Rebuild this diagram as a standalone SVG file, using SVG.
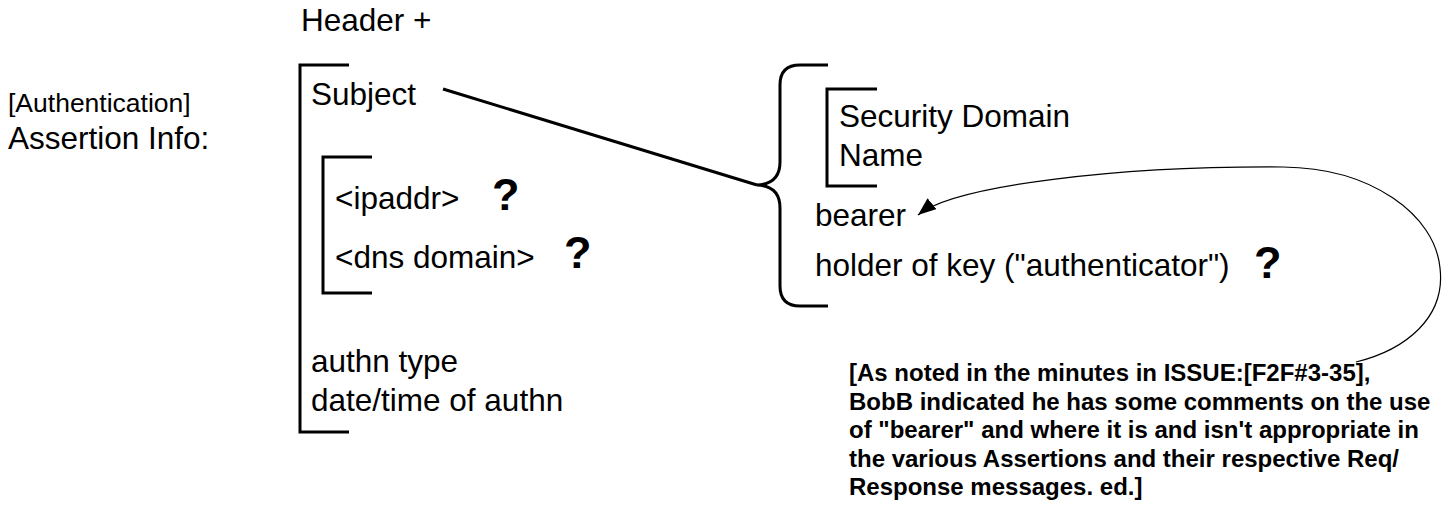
<svg xmlns="http://www.w3.org/2000/svg" width="1448" height="505" viewBox="0 0 1448 505">
<defs>
<style>
.t{font-family:"Liberation Sans",Arial,sans-serif;font-size:31.5px;fill:#000}
.s{font-family:"Liberation Sans",Arial,sans-serif;font-size:26.5px;fill:#000}
.q{font-family:"Liberation Sans",Arial,sans-serif;font-size:45px;font-weight:bold;fill:#000}
.b{font-family:"Liberation Sans",Arial,sans-serif;font-size:24px;font-weight:bold;fill:#000}
.br{fill:none;stroke:#000;stroke-width:3}
.ln{fill:none;stroke:#000;stroke-width:3}
.cv{fill:none;stroke:#000;stroke-width:1.2}
</style>
<marker id="ah" markerWidth="20" markerHeight="14" refX="18" refY="7" orient="auto" markerUnits="userSpaceOnUse">
<path d="M0,0 L18,7 L0,14 z" fill="#000"/>
</marker>
</defs>
<rect width="1448" height="505" fill="#fff"/>
<g id="header"><text class="t" x="301" y="31">Header +</text></g>
<g id="assertion-label">
<text class="s" x="8" y="112">[Authentication]</text>
<text class="t" x="8" y="149">Assertion Info:</text>
</g>
<g id="outer-bracket">
<path class="br" d="M349,65 H300 V432 H349"/>
<text class="t" x="311" y="105">Subject</text>
<text class="t" x="311" y="372">authn type</text>
<text class="t" x="311" y="411">date/time of authn</text>
</g>
<g id="inner-bracket">
<path class="br" d="M372,157 H323 V293 H372"/>
<text class="t" x="335" y="209">&lt;ipaddr&gt;</text>
<text class="q" x="492" y="210">?</text>
<text class="t" x="335" y="268">&lt;dns domain&gt;</text>
<text class="q" x="564" y="268">?</text>
</g>
<g id="subject-brace">
<path class="br" d="M828,65 H800 Q780,65 780,85 V162 Q780,184 757,185 Q780,186 780,208 V286 Q780,306 800,306 H828"/>
<path class="br" d="M877,89 H827 V186 H877"/>
<text class="t" x="839" y="127">Security Domain</text>
<text class="t" x="839" y="166">Name</text>
<text class="t" x="815" y="226">bearer</text>
<text class="t" x="815" y="276">holder of key ("authenticator")</text>
<text class="q" x="1254" y="278">?</text>
</g>
<g id="note">
<text class="b" x="849" y="381">[As noted in the minutes in ISSUE:[F2F#3-35],</text>
<text class="b" x="849" y="409.5">BobB indicated he has some comments on the use</text>
<text class="b" x="849" y="438">of "bearer" and where it is and isn't appropriate in</text>
<text class="b" x="849" y="466.5">the various Assertions and their respective Req/</text>
<text class="b" x="849" y="495">Response messages. ed.]</text>
</g>
<g id="connectors">
<path class="ln" d="M443,89 L757,185"/>
<path class="cv" marker-end="url(#ah)" d="M1356,362 C1405,350 1446,318 1440,268 C1435,215 1372,168 1283,167 C1120,166 955,185 918,215"/>
</g>
</svg>
